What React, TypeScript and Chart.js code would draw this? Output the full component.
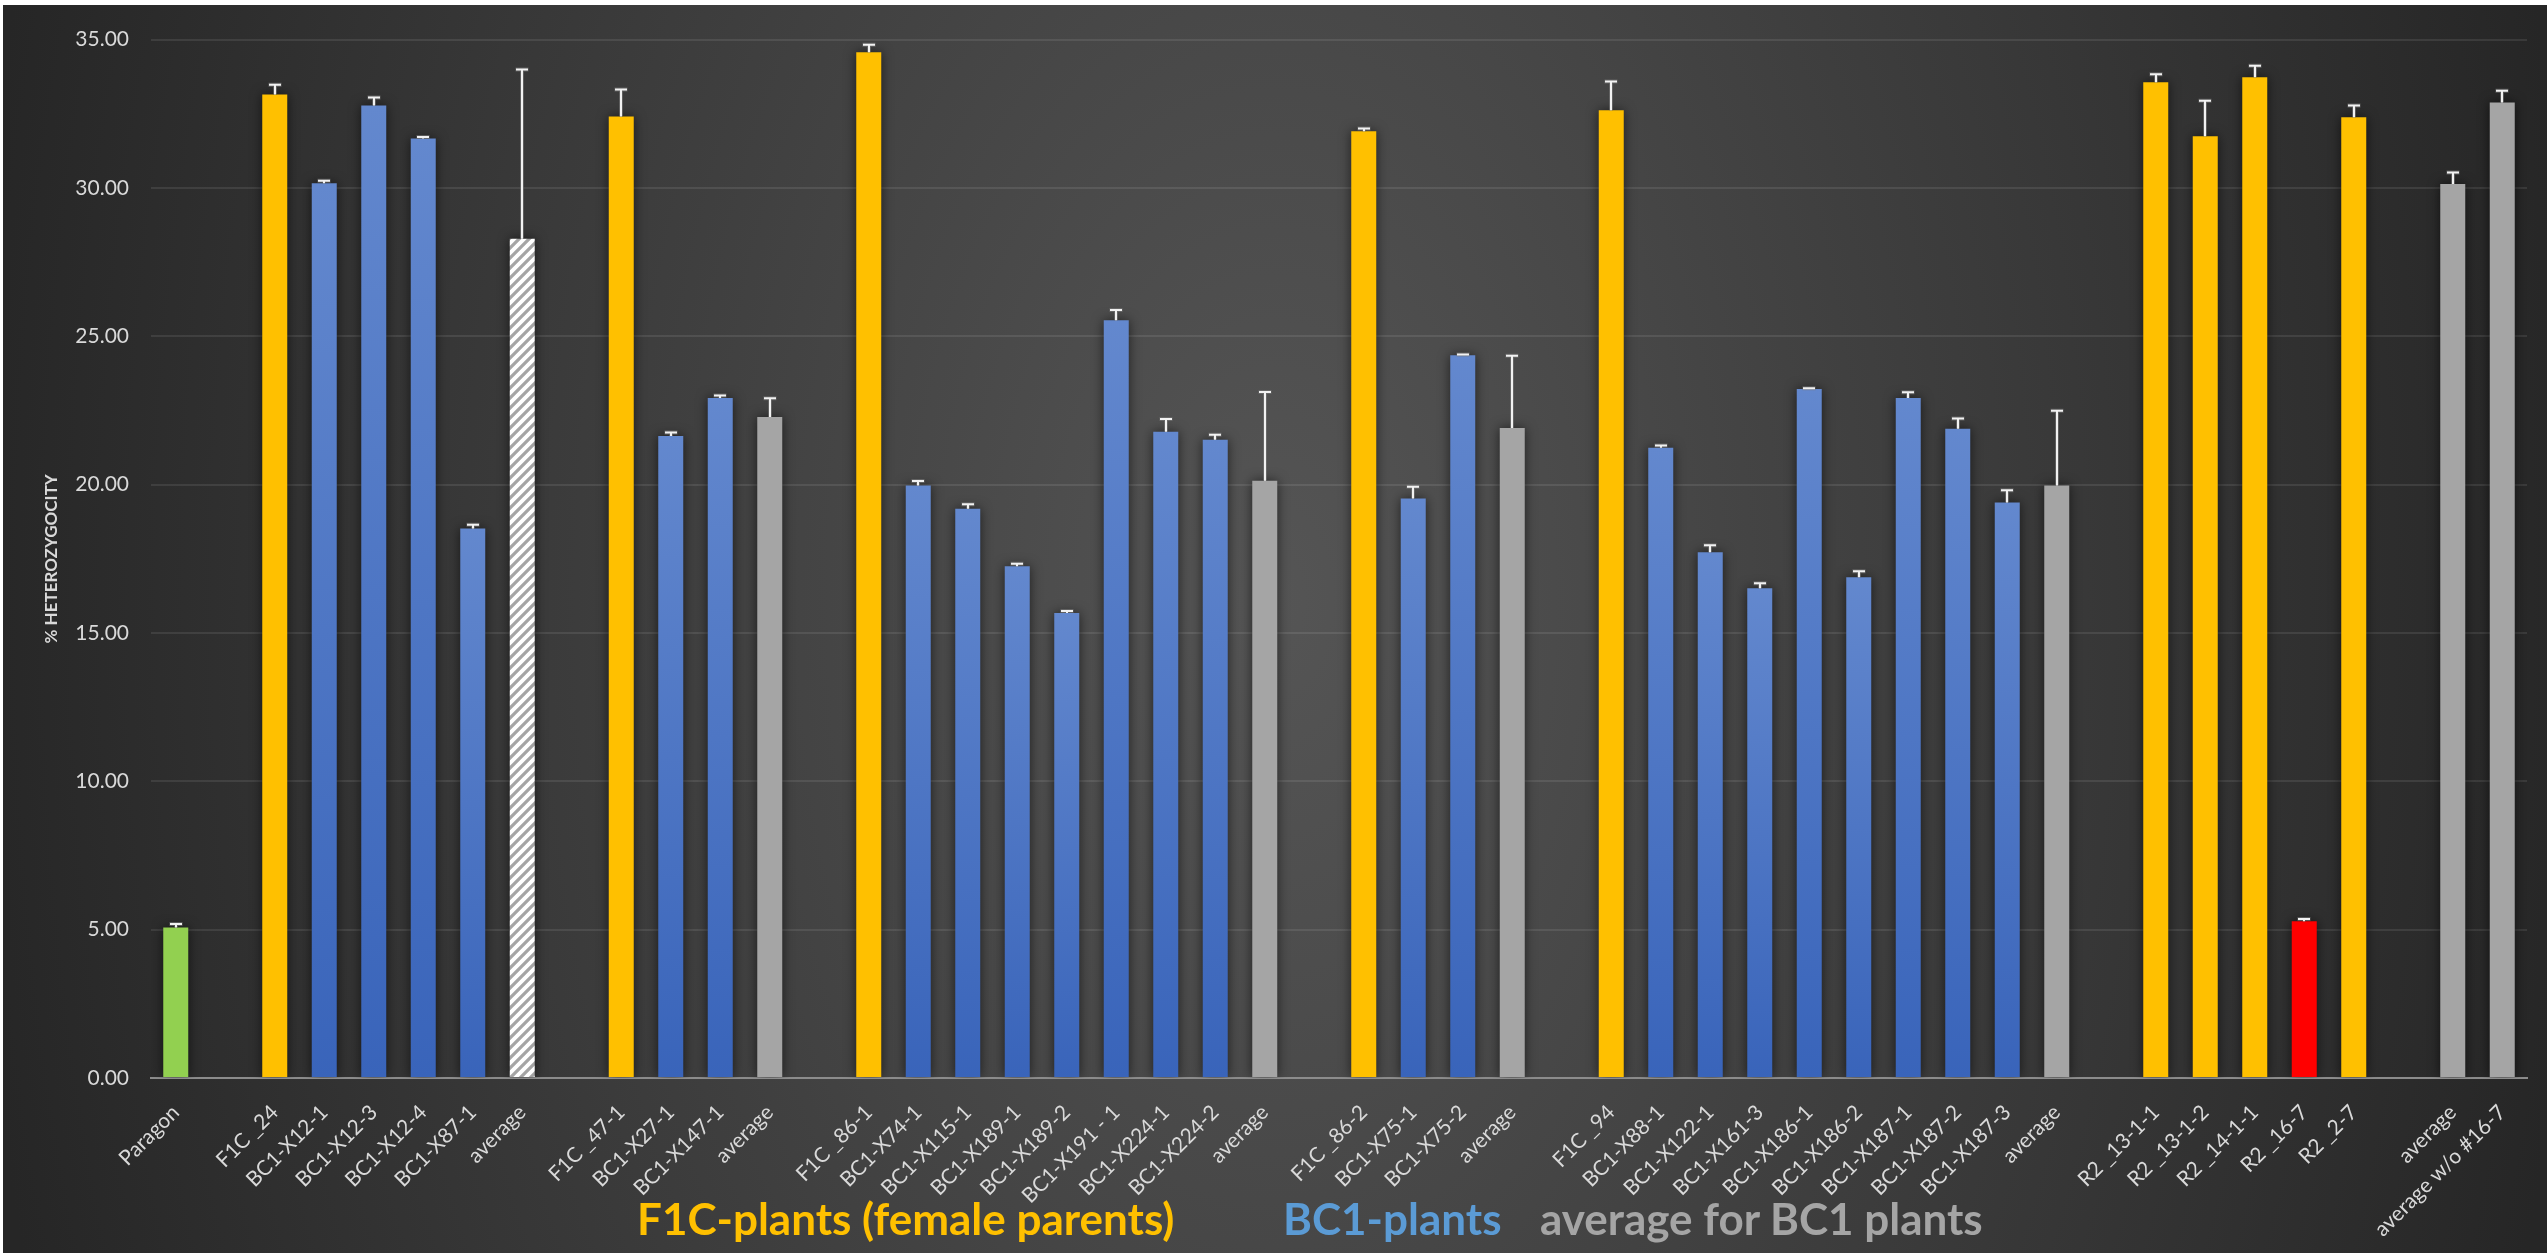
import React, { useEffect, useRef } from 'react';
import { Chart, registerables } from 'chart.js';

Chart.register(...registerables);

// ---------- data ----------
const categories: string[] = [
  'Paragon', '',
  'F1C _24', 'BC1-X12-1', 'BC1-X12-3', 'BC1-X12-4', 'BC1-X87-1', 'average', '',
  'F1C _47-1', 'BC1-X27-1', 'BC1-X147-1', 'average', '',
  'F1C _86-1', 'BC1-X74-1', 'BC1-X115-1', 'BC1-X189-1', 'BC1-X189-2', 'BC1-X191 - 1', 'BC1-X224-1', 'BC1-X224-2', 'average', '',
  'F1C _86-2', 'BC1-X75-1', 'BC1-X75-2', 'average', '',
  'F1C _94', 'BC1-X88-1', 'BC1-X122-1', 'BC1-X161-3', 'BC1-X186-1', 'BC1-X186-2', 'BC1-X187-1', 'BC1-X187-2', 'BC1-X187-3', 'average', '',
  'R2 _13-1-1', 'R2 _13-1-2', 'R2 _14-1-1', 'R2 _16-7', 'R2 _2-7', '',
  'average', 'average w/o #16-7',
];

const values: (number | null)[] = [
  5.07, null,
  33.15, 30.16, 32.78, 31.67, 18.52, 28.29, null,
  32.41, 21.64, 22.92, 22.28, null,
  34.57, 19.97, 19.19, 17.25, 15.67, 25.54, 21.78, 21.51, 20.13, null,
  31.91, 19.53, 24.36, 21.91, null,
  32.62, 21.24, 17.72, 16.51, 23.22, 16.88, 22.92, 21.88, 19.40, 19.97, null,
  33.56, 31.74, 33.73, 5.28, 32.38, null,
  30.13, 32.88,
];

const errors: (number | null)[] = [
  0.12, null,
  0.33, 0.08, 0.27, 0.05, 0.13, 5.70, null,
  0.91, 0.12, 0.08, 0.63, null,
  0.26, 0.15, 0.15, 0.08, 0.07, 0.35, 0.43, 0.17, 2.99, null,
  0.09, 0.40, 0.03, 2.43, null,
  0.97, 0.08, 0.24, 0.17, 0.03, 0.20, 0.19, 0.35, 0.41, 2.52, null,
  0.27, 1.20, 0.39, 0.08, 0.40, null,
  0.39, 0.40,
];

// g = green (Paragon), y = F1C parent, b = BC1 plant, h = hatched average, a = average, r = red
const kinds: string[] = [
  'g', '',
  'y', 'b', 'b', 'b', 'b', 'h', '',
  'y', 'b', 'b', 'a', '',
  'y', 'b', 'b', 'b', 'b', 'b', 'b', 'b', 'a', '',
  'y', 'b', 'b', 'a', '',
  'y', 'b', 'b', 'b', 'b', 'b', 'b', 'b', 'b', 'a', '',
  'y', 'y', 'y', 'r', 'y', '',
  'a', 'a',
];

const yTickValues: number[] = [0, 5, 10, 15, 20, 25, 30, 35];
const yTitle = '% HETEROZYGOCITY';

const legendTexts: string[] = ['F1C-plants (female parents)', 'BC1-plants', 'average for BC1 plants'];
const legendColors: string[] = ['#FFC000', '#5B9BD5', '#A5A5A5'];

const FONT = 'Lato, "DejaVu Sans", sans-serif';
const TEXT = '#D9D9D9';

function makeHatch(ctx: CanvasRenderingContext2D): CanvasPattern | string {
  const c = document.createElement('canvas');
  c.width = 10;
  c.height = 10;
  const g = c.getContext('2d');
  if (!g) return '#ffffff';
  g.fillStyle = '#ffffff';
  g.fillRect(0, 0, 10, 10);
  g.strokeStyle = '#A5A5A5';
  g.lineWidth = 3.2;
  g.beginPath();
  g.moveTo(-5, 5); g.lineTo(5, -5);
  g.moveTo(0, 10); g.lineTo(10, 0);
  g.moveTo(5, 15); g.lineTo(15, 5);
  g.stroke();
  return ctx.createPattern(c, 'repeat') || '#ffffff';
}

const barFx = {
  id: 'barFx',
  beforeDatasetsDraw(chart: any) {
    const c = chart.ctx;
    c.save();
    c.shadowColor = 'rgba(0,0,0,0.6)';
    c.shadowBlur = 12;
    c.shadowOffsetX = 0;
    c.shadowOffsetY = 0;
  },
  afterDatasetsDraw(chart: any) {
    const c = chart.ctx;
    c.restore();
    const meta = chart.getDatasetMeta(0);
    const ys = chart.scales.y;
    meta.data.forEach((bar: any, i: number) => {
      const v = values[i];
      const e = errors[i];
      if (v == null || e == null) return;
      const x = Math.round(bar.x);
      const y0 = ys.getPixelForValue(v);
      const y1 = ys.getPixelForValue(v + e);
      c.save();
      c.strokeStyle = 'rgba(120,120,120,0.6)';
      c.lineWidth = 4;
      c.beginPath();
      c.moveTo(x, y0); c.lineTo(x, y1);
      c.moveTo(x - 6.5, y1); c.lineTo(x + 6.5, y1);
      c.stroke();
      c.strokeStyle = '#F2F2F2';
      c.lineWidth = 2;
      c.beginPath();
      c.moveTo(x, y0); c.lineTo(x, y1);
      c.moveTo(x - 6, y1); c.lineTo(x + 6, y1);
      c.stroke();
      c.restore();
    });
  },
};

export default function App() {
  const ref = useRef<HTMLCanvasElement | null>(null);

  useEffect(() => {
    const canvas = ref.current;
    if (!canvas) return;
    const ctx = canvas.getContext('2d');
    if (!ctx) return;
    const hatch = makeHatch(ctx);

    const chart = new Chart(ctx, {
      type: 'bar',
      data: {
        labels: categories,
        datasets: [
          {
            data: values as any,
            categoryPercentage: 1,
            barPercentage: 0.505,
            borderWidth: 0,
            backgroundColor: (c: any) => {
              const i = c.dataIndex;
              const k = kinds[i];
              if (k === 'g') return '#92D050';
              if (k === 'y') return '#FFC000';
              if (k === 'a') return '#A5A5A5';
              if (k === 'r') return '#FF0000';
              if (k === 'h') return hatch;
              const ys = c.chart.scales && c.chart.scales.y;
              const v = values[i];
              if (!ys || v == null) return '#4472C4';
              const top = ys.getPixelForValue(v);
              const bot = ys.getPixelForValue(0);
              if (!isFinite(top) || !isFinite(bot) || top === bot) return '#4472C4';
              const g = c.chart.ctx.createLinearGradient(0, top, 0, bot);
              g.addColorStop(0, '#6388CE');
              g.addColorStop(1, '#3964BA');
              return g;
            },
          },
        ],
      },
      options: {
        responsive: false,
        devicePixelRatio: 1,
        animation: false,
        layout: { padding: { top: 30, right: 20, left: 0, bottom: 0 } },
        plugins: {
          legend: { display: false },
          tooltip: { enabled: false },
        },
        scales: {
          x: {
            grid: { display: false, drawTicks: false },
            border: { display: true, color: '#8C8C8C', width: 2 },
            ticks: {
              color: TEXT,
              font: { family: FONT, size: 21 },
              minRotation: 45,
              maxRotation: 45,
              autoSkip: false,
              padding: 22,
            },
            afterFit: (s: any) => { s.height = 175; },
          },
          y: {
            min: 0,
            max: 35,
            afterBuildTicks: (s: any) => { s.ticks = yTickValues.map((v) => ({ value: v })); },
            ticks: {
              color: TEXT,
              font: { family: FONT, size: 21 },
              padding: 22,
              callback: (v: any) => Number(v).toFixed(2),
            },
            grid: { color: 'rgba(255,255,255,0.09)', lineWidth: 2, drawTicks: false },
            border: { display: false },
            title: {
              display: true,
              text: yTitle,
              color: TEXT,
              font: { family: FONT, size: 17, weight: 'bold' },
              padding: { top: 38, bottom: 0 },
            },
            afterFit: (s: any) => { s.width = 148; },
          },
        },
      },
      plugins: [barFx],
    } as any);

    return () => chart.destroy();
  }, []);

  const legendLefts = [634, 1280, 1537];

  return (
    <div
      style={{
        position: 'absolute',
        left: 3,
        top: 5,
        width: 2544,
        height: 1248,
        overflow: 'hidden',
        background: 'radial-gradient(1313px 2170px at 1272px 595px, #555555 0%, #262626 100%)',
      }}
    >
      <canvas ref={ref} width={2544} height={1248} style={{ display: 'block', width: 2544, height: 1248 }} />
      {legendTexts.map((t, i) => (
        <span
          key={t}
          style={{
            position: 'absolute',
            left: legendLefts[i],
            top: 1191,
            fontFamily: FONT,
            fontWeight: 'bold',
            fontSize: 44,
            lineHeight: '44px',
            color: legendColors[i],
            whiteSpace: 'nowrap',
          }}
        >
          {t}
        </span>
      ))}
    </div>
  );
}
